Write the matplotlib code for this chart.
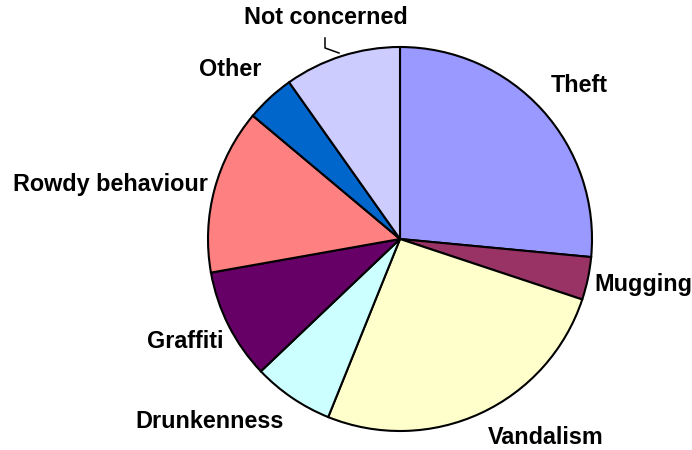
import matplotlib
matplotlib.use("Agg")
import matplotlib.pyplot as plt

categories = ["Theft", "Mugging", "Vandalism", "Drunkenness", "Graffiti",
              "Rowdy behaviour", "Other", "Not concerned"]
values = [26.5, 3.6, 26.0, 6.8, 9.3, 13.9, 4.1, 9.8]
colors = ["#9999FF", "#993366", "#FFFFCC", "#CCFFFF", "#660066",
          "#FF8080", "#0066CC", "#CCCCFF"]

# label centres in figure pixel coordinates (x from left, y from top)
label_px = [(579, 85), (643, 284), (546, 437), (210, 422), (185, 342),
            (110, 185), (230, 70), (326, 18)]

W, H = 692, 450
CX, CY, R = 400, 239, 192

def px2d(x, y):
    return (x - CX) / R, (CY - y) / R

fig = plt.figure(figsize=(W / 100, H / 100), dpi=100)
ax = fig.add_axes([0, 0, 1, 1])
ax.pie(values, colors=colors, startangle=90, counterclock=False, radius=1.0,
       wedgeprops=dict(edgecolor="black", linewidth=1.5))
x0, y0 = px2d(0, H)
x1, y1 = px2d(W, 0)
ax.set_xlim(x0, x1)
ax.set_ylim(y0, y1)
ax.set_aspect("auto")
ax.axis("off")

for name, (lx, ly) in zip(categories, label_px):
    dx, dy = px2d(lx, ly)
    ax.text(dx, dy, name, ha="center", va="center", fontsize=16.8,
            fontweight="bold", family=["Liberation Sans", "DejaVu Sans"], color="black")

# leader line for "Not concerned"
pts = [px2d(325, 38), px2d(325, 48), px2d(339, 53)]
ax.plot([p[0] for p in pts], [p[1] for p in pts], color="black", linewidth=1.1)

fig.savefig("out.png", dpi=100)
